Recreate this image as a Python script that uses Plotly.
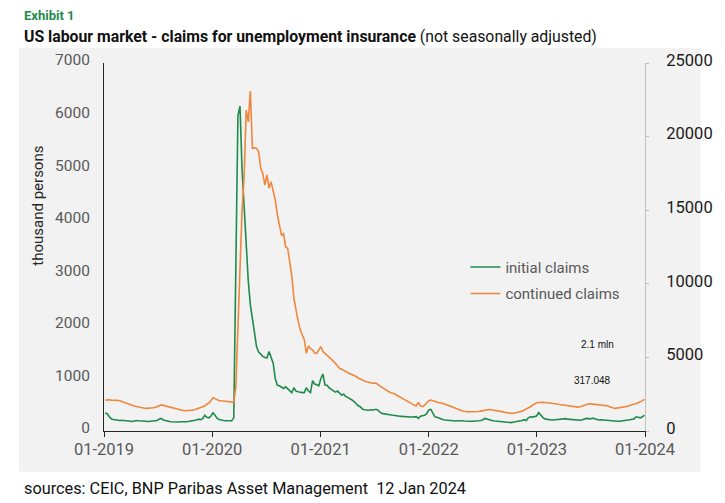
import pandas as pd
import plotly.graph_objects as go

# weekly values (thousands), one list per calendar year, grouped by month in comments
initial_2019 = [340, 330, 270, 230,  220, 210, 205, 200,  205, 200, 195, 190, 185,
                180, 190, 200, 195,  190, 185, 180, 178,  180, 185, 190, 195, 200,
                225, 240, 210, 195,  185, 180, 175, 170, 170,  170, 175, 172, 170,
                175, 180, 185, 190,  195, 210, 225, 215, 235,  300, 260, 250, 285]
initial_2020 = [345, 300, 240, 220,  205, 200, 195, 195, 190,  195, 250, 2900, 6000,
                6180, 4970, 4270, 3490,  2850, 2400, 2150, 1900, 1600,  1500, 1450, 1420, 1400,
                1390, 1510, 1380, 1290,  1000, 870, 860, 830, 810,  840, 800, 780, 730,
                823, 760, 745, 735, 730,  730, 823, 760, 730,  957, 894, 880, 860]
initial_2021 = [1000, 1083, 875, 870, 820,  790, 770, 740, 760,  720, 685, 700, 655,
                640, 620, 590, 560,  520, 480, 462, 418, 405,  400, 395, 405, 400,
                410, 410, 380, 340, 330,  320, 315, 310, 304,  300, 290, 285, 280,
                278, 272, 270, 268, 265,  265, 270, 272, 240,  280, 290, 300, 330]
initial_2022 = [400, 410, 330, 270, 260,  240, 225, 215, 210,  205, 200, 195, 190,
                190, 195, 200, 195, 190,  185, 190, 185, 185,  185, 190, 195, 200,
                210, 240, 225, 210, 200,  195, 190, 185, 180,  175, 180, 170, 165,
                165, 160, 170, 175, 180,  190, 200, 215, 200,  250, 270, 265, 280, 285]
initial_2023 = [350, 300, 260, 230,  220, 215, 210, 210,  215, 220, 230, 225,
                240, 235, 225, 220, 215,  220, 215, 210, 205,  215, 235, 240, 235,
                230, 245, 230, 215, 210,  215, 210, 205, 200,  200, 195, 190, 185, 185,
                185, 190, 195, 195,  200, 215, 225, 230,  270, 260, 250, 270, 300]

continued_2019 = [2100, 2130, 2120, 2100,  2110, 2090, 2080, 2060,  2000, 1950, 1900, 1850, 1800,
                  1750, 1700, 1660, 1620,  1590, 1560, 1550, 1540,  1540, 1560, 1580, 1600, 1640,
                  1720, 1770, 1740, 1700,  1660, 1620, 1570, 1530, 1490,  1450, 1420, 1390, 1380,
                  1380, 1380, 1400, 1420,  1450, 1500, 1560, 1600, 1650,  1700, 1830, 1900, 2060]
continued_2020 = [2260, 2200, 2100, 2060,  2050, 2030, 2010, 2000, 1990,  1980, 1950, 3000, 7500,
                  11800, 15000, 17300, 21800,  21000, 23100, 19200, 19250, 19200,
                  18970, 17850, 17500, 16700,  17400, 16490, 16940, 16300,
                  15700, 14700, 13900, 13300, 13400,  12520, 12410, 11500, 10500,
                  9000, 8200, 7500, 6900, 6500,  6200, 5280, 5770, 5600,  5500, 5300, 5280, 5500]
continued_2021 = [5730, 5400, 5280, 5100, 5000,  4900, 4750, 4600, 4450,  4260, 4200, 4140, 4050,
                  3960, 3900, 3850, 3800,  3700, 3600, 3520, 3460, 3400,  3350, 3300, 3270, 3240,
                  3250, 3230, 3100, 3000, 2900,  2800, 2720, 2650, 2580,  2560, 2480, 2400, 2330,
                  2250, 2150, 2050, 1960, 1880,  1820, 1760, 1700, 1950,  1700, 1650, 1750, 1900]
continued_2022 = [2060, 2100, 2050, 1990, 1950,  1920, 1900, 1880, 1820,  1760, 1700, 1650, 1600,
                  1540, 1480, 1420, 1380, 1340,  1310, 1300, 1310, 1300,  1300, 1310, 1320, 1350,
                  1380, 1420, 1470, 1460, 1440,  1420, 1410, 1400, 1380,  1340, 1300, 1260, 1230,
                  1200, 1200, 1210, 1230, 1270,  1310, 1350, 1420, 1480,  1540, 1650, 1750, 1850, 1920]
continued_2023 = [1940, 1960, 1950, 1940,  1930, 1920, 1910, 1890,  1860, 1830, 1800, 1780,
                  1770, 1740, 1700, 1680, 1650,  1630, 1610, 1620, 1650,  1700, 1750, 1800, 1830,
                  1840, 1830, 1820, 1800, 1790,  1780, 1770, 1760, 1720,  1660, 1600, 1560, 1540, 1560,
                  1580, 1600, 1610, 1640,  1680, 1740, 1800, 1830,  1850, 1900, 1980, 2060, 2150]

first_saturday = {2019: '2019-01-05', 2020: '2020-01-04', 2021: '2021-01-02',
                  2022: '2022-01-01', 2023: '2023-01-07'}
initial_by_year = {2019: initial_2019, 2020: initial_2020, 2021: initial_2021,
                   2022: initial_2022, 2023: initial_2023}
continued_by_year = {2019: continued_2019, 2020: continued_2020, 2021: continued_2021,
                     2022: continued_2022, 2023: continued_2023}

years = [2019, 2020, 2021, 2022, 2023, 2024]
tick_dates = [f'{y}-01-01' for y in years]
tick_text = [f'01-{y}' for y in years]

last_continued = '2.1 mln'
last_initial = '317.048'


def weekly(series_by_year):
    dates, vals = [], []
    for y, v in series_by_year.items():
        dates += list(pd.date_range(first_saturday[y], periods=len(v), freq='W-SAT'))
        vals += v
    return dates, vals


GREEN = '#1e8b4c'
ORANGE = '#f0873d'
GREY_BG = '#f2f2f2'
FONT = 'Roboto, Arial, sans-serif'
NARROW = 'Liberation Sans Narrow, Roboto, Arial, sans-serif'

d_init, v_init = weekly(initial_by_year)
d_cont, v_cont = weekly(continued_by_year)

fig = go.Figure()
fig.add_trace(go.Scatter(x=d_init, y=v_init, name='initial claims', mode='lines',
                         legendgroup='a', line=dict(color=GREEN, width=1.6)))
fig.add_trace(go.Scatter(x=d_cont, y=v_cont, name='continued claims', mode='lines',
                         legendgroup='b', line=dict(color=ORANGE, width=1.6), yaxis='y2'))

# the page body has an 8px margin, so the figure is drawn 8px smaller
fig.update_layout(
    width=717, height=495,
    margin=dict(l=96, r=67, t=55, b=72),
    paper_bgcolor='white',
    plot_bgcolor=GREY_BG,
    font=dict(family=FONT, size=15, color='#595959'),
    showlegend=True,
    legend=dict(x=0.668, y=0.49, xanchor='left', yanchor='top',
                bgcolor='rgba(0,0,0,0)', itemwidth=30, tracegroupgap=4,
                font=dict(size=15, color='#595959', family=NARROW)),
    xaxis=dict(type='date', range=['2019-01-01', '2024-01-01'],
               tickvals=tick_dates, ticktext=tick_text,
               showgrid=False, zeroline=False,
               showline=True, linecolor='#262626', linewidth=1,
               ticks='outside', ticklen=5, tickcolor='#262626',
               ticklabelstandoff=-2,
               tickfont=dict(size=16.5, color='#595959', family=NARROW)),
    yaxis=dict(range=[0, 7000], dtick=1000, showgrid=False, zeroline=False,
               showline=True, linecolor='#262626', linewidth=1,
               ticks='', ticklabelstandoff=10, ticklabelshift=-3,
               tickfont=dict(size=15.5, color='#595959', family=NARROW)),
    yaxis2=dict(range=[0, 25000], dtick=5000, overlaying='y', side='right',
                tickformat='d',
                showgrid=False, zeroline=False,
                showline=True, linecolor='#bfbfbf', linewidth=1,
                ticks='outside', ticklen=3, tickcolor='#bfbfbf',
                ticklabelstandoff=14, ticklabelshift=-3,
                tickfont=dict(size=16.5, color='#1a1a1a', family=NARROW)),
    shapes=[dict(type='rect', xref='paper', yref='paper',
                 x0=-0.157, x1=1.103, y0=-0.111, y1=1.041,
                 fillcolor=GREY_BG, line=dict(width=0), layer='below')],
    annotations=[
        dict(text='<b>Exhibit 1</b>', xref='paper', yref='paper', x=-0.152, y=1.128,
             xanchor='left', yanchor='middle', showarrow=False,
             font=dict(size=13, color=GREEN)),
        dict(text='<b>US labour market - claims for unemployment insurance</b> (not seasonally adjusted)',
             xref='paper', yref='paper', x=-0.152, y=1.071,
             xanchor='left', yanchor='middle', showarrow=False,
             font=dict(size=15.8, color='#111111')),
        dict(text='sources: CEIC, BNP Paribas Asset Management  12 Jan 2024',
             xref='paper', yref='paper', x=-0.152, y=-0.155,
             xanchor='left', yanchor='middle', showarrow=False,
             font=dict(size=16.3, color='#111111')),
        dict(text='thousand persons', xref='paper', yref='paper', x=-0.121, y=0.611,
             textangle=-90, xanchor='center', yanchor='middle', showarrow=False,
             font=dict(size=15, color='#262626')),
        dict(text=last_continued, xref='paper', yref='paper', x=0.913, y=0.234,
             xanchor='center', yanchor='middle', showarrow=False,
             font=dict(size=10, color='#111111', family='Arial, sans-serif')),
        dict(text=last_initial, xref='paper', yref='paper', x=0.903, y=0.136,
             xanchor='center', yanchor='middle', showarrow=False,
             font=dict(size=10, color='#111111', family='Arial, sans-serif')),
    ],
)

fig.write_html('out.html')
